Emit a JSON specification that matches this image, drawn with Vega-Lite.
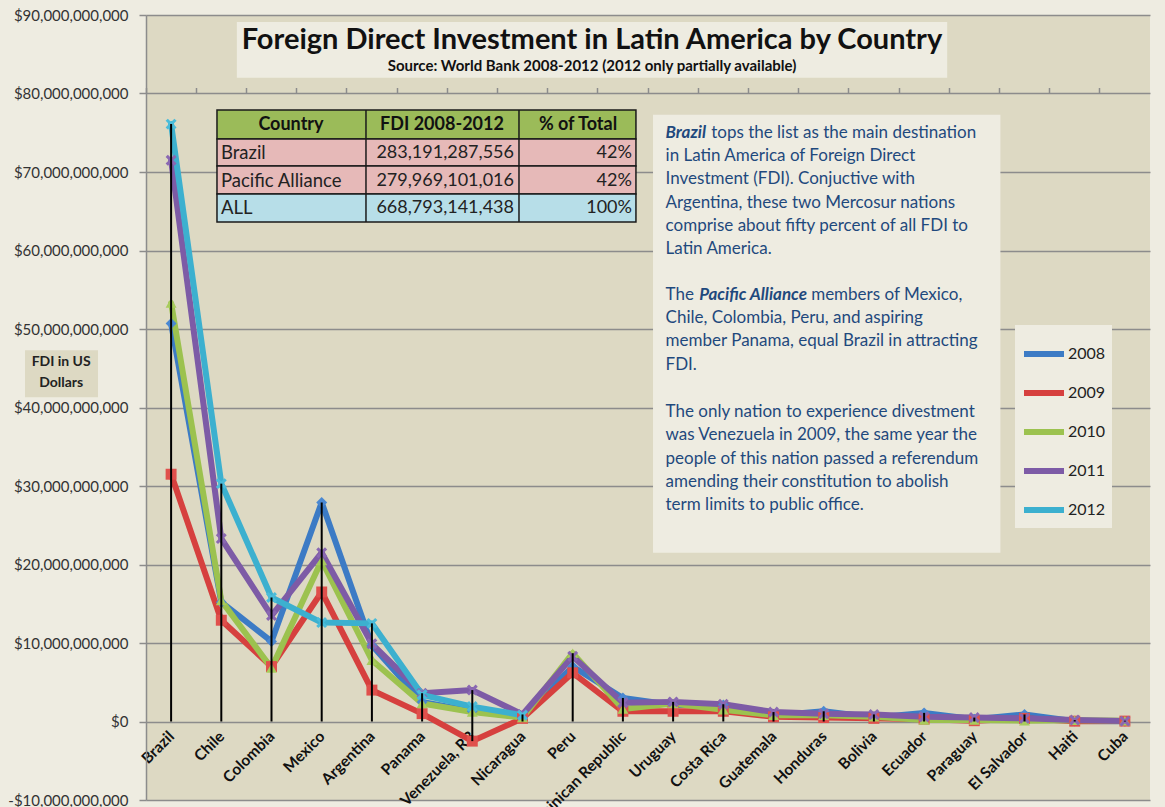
{
  "$schema": "https://vega.github.io/schema/vega-lite/v6.json",
  "width": 1004,
  "height": 785,
  "autosize": {"type": "none"},
  "padding": {"left": 146, "top": 15, "right": 15, "bottom": 7},
  "background": "#EEECE1",
  "config": {
    "view": {"fill": "#DDD9C3", "stroke": null},
    "font": "Lato"
  },
  "datasets": {
    "fdi": [
      {"country": "Brazil", "year": "2008", "value": 50700000000},
      {"country": "Chile", "year": "2008", "value": 15200000000},
      {"country": "Colombia", "year": "2008", "value": 10200000000},
      {"country": "Mexico", "year": "2008", "value": 27900000000},
      {"country": "Argentina", "year": "2008", "value": 9700000000},
      {"country": "Panama", "year": "2008", "value": 2500000000},
      {"country": "Venezuela, RB", "year": "2008", "value": 1300000000},
      {"country": "Nicaragua", "year": "2008", "value": 600000000},
      {"country": "Peru", "year": "2008", "value": 7000000000},
      {"country": "Dominican Republic", "year": "2008", "value": 3000000000},
      {"country": "Uruguay", "year": "2008", "value": 2100000000},
      {"country": "Costa Rica", "year": "2008", "value": 2100000000},
      {"country": "Guatemala", "year": "2008", "value": 750000000},
      {"country": "Honduras", "year": "2008", "value": 1300000000},
      {"country": "Bolivia", "year": "2008", "value": 500000000},
      {"country": "Ecuador", "year": "2008", "value": 1100000000},
      {"country": "Paraguay", "year": "2008", "value": 300000000},
      {"country": "El Salvador", "year": "2008", "value": 900000000},
      {"country": "Haiti", "year": "2008", "value": 50000000},
      {"country": "Cuba", "year": "2008", "value": 30000000},
      {"country": "Brazil", "year": "2009", "value": 31500000000},
      {"country": "Chile", "year": "2009", "value": 12900000000},
      {"country": "Colombia", "year": "2009", "value": 7000000000},
      {"country": "Mexico", "year": "2009", "value": 16500000000},
      {"country": "Argentina", "year": "2009", "value": 4000000000},
      {"country": "Panama", "year": "2009", "value": 1000000000},
      {"country": "Venezuela, RB", "year": "2009", "value": -2500000000},
      {"country": "Nicaragua", "year": "2009", "value": 400000000},
      {"country": "Peru", "year": "2009", "value": 6200000000},
      {"country": "Dominican Republic", "year": "2009", "value": 1300000000},
      {"country": "Uruguay", "year": "2009", "value": 1300000000},
      {"country": "Costa Rica", "year": "2009", "value": 1300000000},
      {"country": "Guatemala", "year": "2009", "value": 600000000},
      {"country": "Honduras", "year": "2009", "value": 500000000},
      {"country": "Bolivia", "year": "2009", "value": 400000000},
      {"country": "Ecuador", "year": "2009", "value": 300000000},
      {"country": "Paraguay", "year": "2009", "value": 100000000},
      {"country": "El Salvador", "year": "2009", "value": 400000000},
      {"country": "Haiti", "year": "2009", "value": 40000000},
      {"country": "Cuba", "year": "2009", "value": 50000000},
      {"country": "Brazil", "year": "2010", "value": 53300000000},
      {"country": "Chile", "year": "2010", "value": 15400000000},
      {"country": "Colombia", "year": "2010", "value": 6800000000},
      {"country": "Mexico", "year": "2010", "value": 20500000000},
      {"country": "Argentina", "year": "2010", "value": 7800000000},
      {"country": "Panama", "year": "2010", "value": 2300000000},
      {"country": "Venezuela, RB", "year": "2010", "value": 1200000000},
      {"country": "Nicaragua", "year": "2010", "value": 500000000},
      {"country": "Peru", "year": "2010", "value": 8700000000},
      {"country": "Dominican Republic", "year": "2010", "value": 1600000000},
      {"country": "Uruguay", "year": "2010", "value": 2300000000},
      {"country": "Costa Rica", "year": "2010", "value": 1500000000},
      {"country": "Guatemala", "year": "2010", "value": 800000000},
      {"country": "Honduras", "year": "2010", "value": 800000000},
      {"country": "Bolivia", "year": "2010", "value": 600000000},
      {"country": "Ecuador", "year": "2010", "value": 200000000},
      {"country": "Paraguay", "year": "2010", "value": 200000000},
      {"country": "El Salvador", "year": "2010", "value": 100000000},
      {"country": "Haiti", "year": "2010", "value": 150000000},
      {"country": "Cuba", "year": "2010", "value": 100000000},
      {"country": "Brazil", "year": "2011", "value": 71500000000},
      {"country": "Chile", "year": "2011", "value": 23300000000},
      {"country": "Colombia", "year": "2011", "value": 13500000000},
      {"country": "Mexico", "year": "2011", "value": 21500000000},
      {"country": "Argentina", "year": "2011", "value": 9900000000},
      {"country": "Panama", "year": "2011", "value": 3600000000},
      {"country": "Venezuela, RB", "year": "2011", "value": 4000000000},
      {"country": "Nicaragua", "year": "2011", "value": 900000000},
      {"country": "Peru", "year": "2011", "value": 8300000000},
      {"country": "Dominican Republic", "year": "2011", "value": 2400000000},
      {"country": "Uruguay", "year": "2011", "value": 2500000000},
      {"country": "Costa Rica", "year": "2011", "value": 2200000000},
      {"country": "Guatemala", "year": "2011", "value": 1200000000},
      {"country": "Honduras", "year": "2011", "value": 1000000000},
      {"country": "Bolivia", "year": "2011", "value": 900000000},
      {"country": "Ecuador", "year": "2011", "value": 600000000},
      {"country": "Paraguay", "year": "2011", "value": 500000000},
      {"country": "El Salvador", "year": "2011", "value": 400000000},
      {"country": "Haiti", "year": "2011", "value": 180000000},
      {"country": "Cuba", "year": "2011", "value": 50000000},
      {"country": "Brazil", "year": "2012", "value": 76100000000},
      {"country": "Chile", "year": "2012", "value": 30300000000},
      {"country": "Colombia", "year": "2012", "value": 15800000000},
      {"country": "Mexico", "year": "2012", "value": 12600000000},
      {"country": "Argentina", "year": "2012", "value": 12500000000},
      {"country": "Panama", "year": "2012", "value": 3400000000},
      {"country": "Venezuela, RB", "year": "2012", "value": 1900000000},
      {"country": "Nicaragua", "year": "2012", "value": 800000000}
    ]
  },
  "resolve": {"scale": {"x": "independent"}, "axis": {"x": "independent"}},
  "layer": [
    {
      "data": {"values": [{}]},
      "mark": {"type": "rect", "fill": "#EEECE1"},
      "encoding": {
        "x": {"datum": 1.81, "type": "quantitative", "scale": {"domain": [0, 20]}, "axis": null},
        "x2": {"datum": 15.96},
        "y": {"datum": 89100000000, "type": "quantitative", "scale": {"domain": [-10000000000, 90000000000], "nice": false, "zero": false}},
        "y2": {"datum": 82000000000}
      }
    },
    {
      "data": {"values": [{}]},
      "mark": {"type": "rect", "fill": "#EEECE1"},
      "encoding": {
        "x": {"datum": 10.10, "type": "quantitative", "scale": {"domain": [0, 20]}, "axis": null},
        "x2": {"datum": 17.02},
        "y": {"datum": 77300000000, "type": "quantitative", "scale": {"domain": [-10000000000, 90000000000], "nice": false, "zero": false}},
        "y2": {"datum": 21500000000}
      }
    },
    {
      "data": {"values": [{}]},
      "mark": {"type": "rect", "fill": "#DDD9C3"},
      "encoding": {
        "x": {"datum": -2.41, "type": "quantitative", "scale": {"domain": [0, 20]}, "axis": null},
        "x2": {"datum": -0.956},
        "y": {"datum": 47300000000, "type": "quantitative", "scale": {"domain": [-10000000000, 90000000000], "nice": false, "zero": false}},
        "y2": {"datum": 41300000000}
      }
    },
    {
      "data": {"values": [{}]},
      "mark": {"type": "rect", "fill": "#9BBB59", "stroke": "#1a1a1a", "strokeWidth": 1.5},
      "encoding": {
        "x": {"datum": 1.414, "type": "quantitative", "scale": {"domain": [0, 20]}, "axis": null},
        "x2": {"datum": 9.76},
        "y": {"datum": 77900000000, "type": "quantitative", "scale": {"domain": [-10000000000, 90000000000], "nice": false, "zero": false}},
        "y2": {"datum": 74200000000}
      }
    },
    {
      "data": {"values": [{}]},
      "mark": {"type": "rect", "fill": "#E6B9B8", "stroke": "#1a1a1a", "strokeWidth": 1.5},
      "encoding": {
        "x": {"datum": 1.414, "type": "quantitative", "scale": {"domain": [0, 20]}, "axis": null},
        "x2": {"datum": 9.76},
        "y": {"datum": 74200000000, "type": "quantitative", "scale": {"domain": [-10000000000, 90000000000], "nice": false, "zero": false}},
        "y2": {"datum": 70760000000}
      }
    },
    {
      "data": {"values": [{}]},
      "mark": {"type": "rect", "fill": "#E6B9B8", "stroke": "#1a1a1a", "strokeWidth": 1.5},
      "encoding": {
        "x": {"datum": 1.414, "type": "quantitative", "scale": {"domain": [0, 20]}, "axis": null},
        "x2": {"datum": 9.76},
        "y": {"datum": 70760000000, "type": "quantitative", "scale": {"domain": [-10000000000, 90000000000], "nice": false, "zero": false}},
        "y2": {"datum": 67200000000}
      }
    },
    {
      "data": {"values": [{}]},
      "mark": {"type": "rect", "fill": "#B7DEE8", "stroke": "#1a1a1a", "strokeWidth": 1.5},
      "encoding": {
        "x": {"datum": 1.414, "type": "quantitative", "scale": {"domain": [0, 20]}, "axis": null},
        "x2": {"datum": 9.76},
        "y": {"datum": 67200000000, "type": "quantitative", "scale": {"domain": [-10000000000, 90000000000], "nice": false, "zero": false}},
        "y2": {"datum": 63630000000}
      }
    },
    {
      "data": {"values": [{}]},
      "mark": {"type": "rule", "color": "#1a1a1a", "strokeWidth": 1.5},
      "encoding": {
        "x": {"datum": 4.382, "type": "quantitative", "scale": {"domain": [0, 20]}, "axis": null},
        "y": {"datum": 77900000000, "type": "quantitative", "scale": {"domain": [-10000000000, 90000000000], "nice": false, "zero": false}},
        "y2": {"datum": 63630000000}
      }
    },
    {
      "data": {"values": [{}]},
      "mark": {"type": "rule", "color": "#1a1a1a", "strokeWidth": 1.5},
      "encoding": {
        "x": {"datum": 7.43, "type": "quantitative", "scale": {"domain": [0, 20]}, "axis": null},
        "y": {"datum": 77900000000, "type": "quantitative", "scale": {"domain": [-10000000000, 90000000000], "nice": false, "zero": false}},
        "y2": {"datum": 63630000000}
      }
    },
    {
      "data": {"name": "fdi"},
      "mark": {"type": "line", "strokeWidth": 6, "strokeJoin": "round", "strokeCap": "round"},
      "encoding": {
        "x": {
          "field": "country", "type": "nominal",
          "scale": {"domain": ["Brazil", "Chile", "Colombia", "Mexico", "Argentina", "Panama", "Venezuela, RB", "Nicaragua", "Peru", "Dominican Republic", "Uruguay", "Costa Rica", "Guatemala", "Honduras", "Bolivia", "Ecuador", "Paraguay", "El Salvador", "Haiti", "Cuba"]},
          "axis": {"title": null, "labelAngle": -45, "labelAlign": "right", "labelBaseline": "middle", "labelFont": "Lato", "labelFontWeight": "bold", "labelFontSize": 15.5, "labelColor": "#111111", "ticks": false, "domain": false, "grid": false, "labelPadding": 12, "offset": -78.5}
        },
        "y": {
          "field": "value", "type": "quantitative",
          "scale": {"domain": [-10000000000, 90000000000], "nice": false, "zero": false},
          "axis": {"title": null, "values": [-10000000000, 0, 10000000000, 20000000000, 30000000000, 40000000000, 50000000000, 60000000000, 70000000000, 80000000000, 90000000000], "format": "$,.0f", "labelExpr": "replace(datum.label, '\u2212', '-')", "grid": true, "gridColor": "#8C8C8C", "gridWidth": 1.5, "domainColor": "#8C8C8C", "domainWidth": 1.5, "tickColor": "#8C8C8C", "tickWidth": 1.5, "tickSize": 7, "labelFont": "Lato", "labelFontSize": 15, "labelColor": "#333333", "labelPadding": 11}
        },
        "color": {
          "field": "year", "type": "nominal",
          "scale": {"domain": ["2008", "2009", "2010", "2011", "2012"], "range": ["#3C7BC5", "#D6403E", "#9CC24F", "#7D5BA6", "#3CB0CF"]},
          "legend": {"title": null, "orient": "none", "legendX": 869, "legendY": 310, "symbolType": "stroke", "symbolStrokeWidth": 6, "symbolSize": 1600, "labelFont": "Lato", "labelFontSize": 16, "labelColor": "#222222", "labelOffset": 1, "rowPadding": 4, "padding": 6, "fillColor": "#EEECE1"}
        },
        "order": {"field": "year"}
      }
    },
    {
      "data": {"name": "fdi"},
      "transform": [{"calculate": "datum.year", "as": "series"}],
      "mark": {"type": "point", "filled": true, "size": 120, "opacity": 1},
      "encoding": {
        "x": {
          "field": "country", "type": "nominal",
          "scale": {"domain": ["Brazil", "Chile", "Colombia", "Mexico", "Argentina", "Panama", "Venezuela, RB", "Nicaragua", "Peru", "Dominican Republic", "Uruguay", "Costa Rica", "Guatemala", "Honduras", "Bolivia", "Ecuador", "Paraguay", "El Salvador", "Haiti", "Cuba"]},
          "axis": null
        },
        "y": {"field": "value", "type": "quantitative", "scale": {"domain": [-10000000000, 90000000000], "nice": false, "zero": false}},
        "fill": {
          "field": "series", "type": "nominal",
          "scale": {"range": ["#4A88D2", "#E0504C", "#A8CC5C", "#8A68B2", "#4ABCDA"]},
          "legend": null
        },
        "shape": {
          "field": "series", "type": "nominal",
          "scale": {"range": ["diamond", "square", "triangle-up", "M-1,-0.6L-0.6,-1L0,-0.4L0.6,-1L1,-0.6L0.4,0L1,0.6L0.6,1L0,0.4L-0.6,1L-1,0.6L-0.4,0Z", "M-1,-0.6L-0.6,-1L0,-0.4L0.6,-1L1,-0.6L0.4,0L1,0.6L0.6,1L0,0.4L-0.6,1L-1,0.6L-0.4,0Z"]},
          "legend": null
        }
      }
    },
    {
      "data": {"name": "fdi"},
      "transform": [
        {"aggregate": [{"op": "max", "field": "value", "as": "hi"}, {"op": "min", "field": "value", "as": "lo"}], "groupby": ["country"]},
        {"calculate": "min(datum.lo, 0)", "as": "lo0"}
      ],
      "mark": {"type": "rule", "color": "#000000", "strokeWidth": 2},
      "encoding": {
        "x": {
          "field": "country", "type": "nominal",
          "scale": {"type": "band", "paddingInner": 0, "paddingOuter": 0, "domain": ["Brazil", "Chile", "Colombia", "Mexico", "Argentina", "Panama", "Venezuela, RB", "Nicaragua", "Peru", "Dominican Republic", "Uruguay", "Costa Rica", "Guatemala", "Honduras", "Bolivia", "Ecuador", "Paraguay", "El Salvador", "Haiti", "Cuba"]},
          "axis": {"title": null, "labels": false, "ticks": true, "tickSize": 6, "tickColor": "#8C8C8C", "tickWidth": 1.5, "bandPosition": 0, "domain": false, "grid": false, "offset": -78.5}
        },
        "y": {"field": "hi", "type": "quantitative", "scale": {"domain": [-10000000000, 90000000000], "nice": false, "zero": false}},
        "y2": {"field": "lo0"}
      }
    },
    {
      "data": {"values": [{}]},
      "mark": {"type": "text", "text": "Foreign Direct Investment in Latin America by Country", "font": "Lato", "fontSize": 29, "fontWeight": "bold", "align": "center", "baseline": "middle", "color": "#111111"},
      "encoding": {
        "x": {"datum": 8.884, "type": "quantitative", "scale": {"domain": [0, 20]}, "axis": null},
        "y": {"datum": 86810000000, "type": "quantitative", "scale": {"domain": [-10000000000, 90000000000], "nice": false, "zero": false}}
      }
    },
    {
      "data": {"values": [{}]},
      "mark": {"type": "text", "text": "Source: World Bank 2008-2012 (2012 only partially available)", "font": "Lato", "fontSize": 15, "fontWeight": "bold", "align": "center", "baseline": "middle", "color": "#111111"},
      "encoding": {
        "x": {"datum": 8.884, "type": "quantitative", "scale": {"domain": [0, 20]}, "axis": null},
        "y": {"datum": 83500000000, "type": "quantitative", "scale": {"domain": [-10000000000, 90000000000], "nice": false, "zero": false}}
      }
    },
    {
      "data": {"values": [{}]},
      "mark": {"type": "text", "text": ["FDI in US", "Dollars"], "font": "Lato", "fontSize": 14, "fontWeight": "bold", "align": "center", "baseline": "middle", "lineHeight": 21, "color": "#222222"},
      "encoding": {
        "x": {"datum": -1.69, "type": "quantitative", "scale": {"domain": [0, 20]}, "axis": null},
        "y": {"datum": 45800000000, "type": "quantitative", "scale": {"domain": [-10000000000, 90000000000], "nice": false, "zero": false}}
      }
    },
    {
      "data": {"values": [{}]},
      "mark": {"type": "text", "text": "Country", "font": "Lato", "fontSize": 18, "fontWeight": "bold", "align": "center", "baseline": "middle", "color": "#111111"},
      "encoding": {
        "x": {"datum": 2.888, "type": "quantitative", "scale": {"domain": [0, 20]}, "axis": null},
        "y": {"datum": 75990000000, "type": "quantitative", "scale": {"domain": [-10000000000, 90000000000], "nice": false, "zero": false}}
      }
    },
    {
      "data": {"values": [{}]},
      "mark": {"type": "text", "text": "FDI 2008-2012", "font": "Lato", "fontSize": 18, "fontWeight": "bold", "align": "center", "baseline": "middle", "color": "#111111"},
      "encoding": {
        "x": {"datum": 5.896, "type": "quantitative", "scale": {"domain": [0, 20]}, "axis": null},
        "y": {"datum": 75990000000, "type": "quantitative", "scale": {"domain": [-10000000000, 90000000000], "nice": false, "zero": false}}
      }
    },
    {
      "data": {"values": [{}]},
      "mark": {"type": "text", "text": "% of Total", "font": "Lato", "fontSize": 18, "fontWeight": "bold", "align": "center", "baseline": "middle", "color": "#111111"},
      "encoding": {
        "x": {"datum": 8.606, "type": "quantitative", "scale": {"domain": [0, 20]}, "axis": null},
        "y": {"datum": 75990000000, "type": "quantitative", "scale": {"domain": [-10000000000, 90000000000], "nice": false, "zero": false}}
      }
    },
    {
      "data": {"values": [{}]},
      "mark": {"type": "text", "text": ["Brazil", "Pacific Alliance", "ALL"], "font": "Lato", "fontSize": 18.5, "align": "left", "baseline": "middle", "lineHeight": 27.5, "color": "#222222"},
      "encoding": {
        "x": {"datum": 1.494, "type": "quantitative", "scale": {"domain": [0, 20]}, "axis": null},
        "y": {"datum": 72420000000, "type": "quantitative", "scale": {"domain": [-10000000000, 90000000000], "nice": false, "zero": false}}
      }
    },
    {
      "data": {"values": [{}]},
      "mark": {"type": "text", "text": ["283,191,287,556", "279,969,101,016", "668,793,141,438"], "font": "Lato", "fontSize": 18, "align": "right", "baseline": "middle", "lineHeight": 27.5, "color": "#222222"},
      "encoding": {
        "x": {"datum": 7.33, "type": "quantitative", "scale": {"domain": [0, 20]}, "axis": null},
        "y": {"datum": 72420000000, "type": "quantitative", "scale": {"domain": [-10000000000, 90000000000], "nice": false, "zero": false}}
      }
    },
    {
      "data": {"values": [{}]},
      "mark": {"type": "text", "text": ["42%", "42%", "100%"], "font": "Lato", "fontSize": 18, "align": "right", "baseline": "middle", "lineHeight": 27.5, "color": "#222222"},
      "encoding": {
        "x": {"datum": 9.68, "type": "quantitative", "scale": {"domain": [0, 20]}, "axis": null},
        "y": {"datum": 72420000000, "type": "quantitative", "scale": {"domain": [-10000000000, 90000000000], "nice": false, "zero": false}}
      }
    },
    {
      "data": {"values": [{}]},
      "mark": {"type": "text", "text": "Brazil", "font": "Lato", "fontSize": 17, "fontWeight": "bold", "fontStyle": "italic", "align": "left", "baseline": "alphabetic", "color": "#1F497D"},
      "encoding": {
        "x": {"datum": 10.35, "type": "quantitative", "scale": {"domain": [0, 20]}, "axis": null},
        "y": {"datum": 74330000000, "type": "quantitative", "scale": {"domain": [-10000000000, 90000000000], "nice": false, "zero": false}}
      }
    },
    {
      "data": {"values": [{}]},
      "mark": {"type": "text", "text": "tops the list as the main destination", "font": "Lato", "fontSize": 17, "align": "left", "baseline": "alphabetic", "color": "#1F497D"},
      "encoding": {
        "x": {"datum": 11.26, "type": "quantitative", "scale": {"domain": [0, 20]}, "axis": null},
        "y": {"datum": 74330000000, "type": "quantitative", "scale": {"domain": [-10000000000, 90000000000], "nice": false, "zero": false}}
      }
    },
    {
      "data": {"values": [{}]},
      "mark": {"type": "text", "text": ["in Latin America of Foreign Direct", "Investment (FDI). Conjuctive with", "Argentina, these two Mercosur nations", "comprise about fifty percent of all FDI to", "Latin America."], "font": "Lato", "fontSize": 17, "align": "left", "baseline": "alphabetic", "lineHeight": 23.3, "color": "#1F497D"},
      "encoding": {
        "x": {"datum": 10.35, "type": "quantitative", "scale": {"domain": [0, 20]}, "axis": null},
        "y": {"datum": 71400000000, "type": "quantitative", "scale": {"domain": [-10000000000, 90000000000], "nice": false, "zero": false}}
      }
    },
    {
      "data": {"values": [{}]},
      "mark": {"type": "text", "text": "The", "font": "Lato", "fontSize": 17, "align": "left", "baseline": "alphabetic", "color": "#1F497D"},
      "encoding": {
        "x": {"datum": 10.35, "type": "quantitative", "scale": {"domain": [0, 20]}, "axis": null},
        "y": {"datum": 53690000000, "type": "quantitative", "scale": {"domain": [-10000000000, 90000000000], "nice": false, "zero": false}}
      }
    },
    {
      "data": {"values": [{}]},
      "mark": {"type": "text", "text": "Pacific Alliance", "font": "Lato", "fontSize": 17, "fontWeight": "bold", "fontStyle": "italic", "align": "left", "baseline": "alphabetic", "color": "#1F497D"},
      "encoding": {
        "x": {"datum": 11.02, "type": "quantitative", "scale": {"domain": [0, 20]}, "axis": null},
        "y": {"datum": 53690000000, "type": "quantitative", "scale": {"domain": [-10000000000, 90000000000], "nice": false, "zero": false}}
      }
    },
    {
      "data": {"values": [{}]},
      "mark": {"type": "text", "text": "members of Mexico,", "font": "Lato", "fontSize": 17, "align": "left", "baseline": "alphabetic", "color": "#1F497D"},
      "encoding": {
        "x": {"datum": 13.25, "type": "quantitative", "scale": {"domain": [0, 20]}, "axis": null},
        "y": {"datum": 53690000000, "type": "quantitative", "scale": {"domain": [-10000000000, 90000000000], "nice": false, "zero": false}}
      }
    },
    {
      "data": {"values": [{}]},
      "mark": {"type": "text", "text": ["Chile, Colombia, Peru, and aspiring", "member Panama, equal Brazil in attracting", "FDI."], "font": "Lato", "fontSize": 17, "align": "left", "baseline": "alphabetic", "lineHeight": 23.3, "color": "#1F497D"},
      "encoding": {
        "x": {"datum": 10.35, "type": "quantitative", "scale": {"domain": [0, 20]}, "axis": null},
        "y": {"datum": 50760000000, "type": "quantitative", "scale": {"domain": [-10000000000, 90000000000], "nice": false, "zero": false}}
      }
    },
    {
      "data": {"values": [{}]},
      "mark": {"type": "text", "text": ["The only nation to experience divestment", "was Venezuela in 2009, the same year the", "people of this nation passed a referendum", "amending their constitution to abolish", "term limits to public office."], "font": "Lato", "fontSize": 17, "align": "left", "baseline": "alphabetic", "lineHeight": 23.3, "color": "#1F497D"},
      "encoding": {
        "x": {"datum": 10.35, "type": "quantitative", "scale": {"domain": [0, 20]}, "axis": null},
        "y": {"datum": 38790000000, "type": "quantitative", "scale": {"domain": [-10000000000, 90000000000], "nice": false, "zero": false}}
      }
    }
  ]
}
